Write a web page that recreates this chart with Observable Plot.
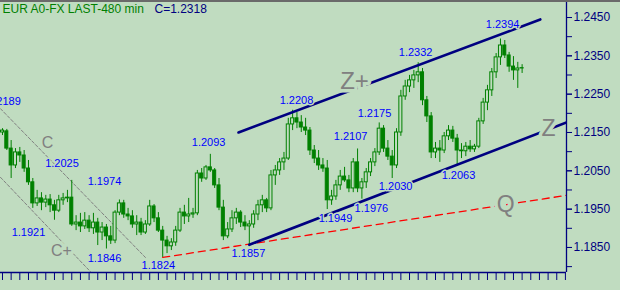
<!DOCTYPE html>
<html><head><meta charset="utf-8">
<script src="https://cdn.jsdelivr.net/npm/d3@7"></script>
<script src="https://cdn.jsdelivr.net/npm/@observablehq/plot@0.6"></script>
<style>
html,body{margin:0;padding:0;background:#c0dcc0;overflow:hidden}
#wrap{position:relative;width:620px;height:290px}
#wrap svg{display:block}
#topline{position:absolute;left:0;top:0;width:620px;height:2px;background:#6a6a6a}
</style></head><body><div id="wrap"><div id="topline"></div></div>
<script>
const opens = [1.2150,1.2153,1.2108,1.2064,1.2098,1.2090,1.2056,1.2020,1.1965,1.1978,
 1.1967,1.1975,1.1960,1.1946,1.1973,1.1978,1.1980,1.1910,1.1915,1.1905,
 1.1920,1.1900,1.1915,1.1889,1.1902,1.1879,1.1868,1.1941,1.1965,1.1936,
 1.1931,1.1910,1.1915,1.1889,1.1910,1.1957,1.1926,1.1894,1.1868,1.1853,
 1.1863,1.1894,1.1941,1.1931,1.1936,1.1939,1.2043,1.2030,1.2059,1.2051,
 1.2012,1.1954,1.1879,1.1897,1.1926,1.1941,1.1915,1.1905,1.1910,1.1936,
 1.1960,1.1973,1.1952,1.2038,1.2051,1.2072,1.2082,1.2171,1.2187,1.2176,
 1.2163,1.2155,1.2103,1.2082,1.2064,1.2056,1.1973,1.1983,1.2012,1.2035,
 1.2025,1.2004,1.2072,1.2004,1.2020,1.2046,1.2072,1.2098,1.2160,1.2108,
 1.2087,1.2064,1.2150,1.2244,1.2270,1.2286,1.2299,1.2307,1.2234,1.2192,
 1.2098,1.2108,1.2103,1.2140,1.2155,1.2134,1.2103,1.2101,1.2113,1.2106,
 1.2113,1.2179,1.2228,1.2260,1.2307,1.2346,1.2377,1.2351,1.2322,1.2312,
 1.2317];
const highs = [1.2160,1.2158,1.2129,1.2108,1.2111,1.2103,1.2077,1.2030,1.1999,1.1993,
 1.1986,1.1988,1.1973,1.1986,1.1991,1.1999,1.2025,1.1933,1.1939,1.1941,
 1.1933,1.1939,1.1926,1.1915,1.1910,1.1905,1.1946,1.1974,1.1973,1.1952,
 1.1946,1.1933,1.1926,1.1920,1.1973,1.1962,1.1941,1.1905,1.1879,1.1873,
 1.1905,1.1952,1.1960,1.1978,1.1952,1.2051,1.2056,1.2064,1.2093,1.2056,
 1.2030,1.1973,1.1915,1.1946,1.1952,1.1946,1.1933,1.1920,1.1946,1.1973,
 1.1986,1.1978,1.2051,1.2064,1.2082,1.2098,1.2187,1.2208,1.2202,1.2194,
 1.2187,1.2163,1.2116,1.2103,1.2082,1.2077,1.1999,1.2025,1.2051,1.2059,
 1.2038,1.2082,1.2107,1.2030,1.2056,1.2082,1.2108,1.2175,1.2168,1.2129,
 1.2103,1.2160,1.2260,1.2286,1.2299,1.2312,1.2332,1.2317,1.2244,1.2202,
 1.2124,1.2129,1.2150,1.2168,1.2166,1.2145,1.2121,1.2124,1.2129,1.2119,
 1.2187,1.2239,1.2273,1.2317,1.2356,1.2394,1.2390,1.2359,1.2348,1.2333,
 1.2327];
const lows = [1.2142,1.2103,1.2030,1.2056,1.2072,1.2046,1.2012,1.1952,1.1957,1.1946,
 1.1954,1.1941,1.1921,1.1941,1.1960,1.1967,1.1905,1.1894,1.1889,1.1897,
 1.1889,1.1884,1.1855,1.1868,1.1846,1.1858,1.1860,1.1933,1.1926,1.1920,
 1.1900,1.1881,1.1881,1.1884,1.1905,1.1915,1.1889,1.1824,1.1834,1.1842,
 1.1853,1.1889,1.1910,1.1915,1.1926,1.1933,1.2020,1.2025,1.2046,1.2004,
 1.1946,1.1868,1.1873,1.1889,1.1910,1.1902,1.1894,1.1857,1.1900,1.1920,
 1.1941,1.1941,1.1946,1.2012,1.2038,1.2051,1.2077,1.2155,1.2160,1.2150,
 1.2142,1.2090,1.2069,1.2051,1.2046,1.1949,1.1960,1.1973,1.1999,1.2020,
 1.1993,1.1993,1.1993,1.1976,1.2004,1.2035,1.2061,1.2090,1.2098,1.2077,
 1.2030,1.2056,1.2140,1.2234,1.2254,1.2265,1.2280,1.2220,1.2176,1.2082,
 1.2082,1.2072,1.2095,1.2129,1.2124,1.2063,1.2082,1.2087,1.2098,1.2098,
 1.2108,1.2171,1.2207,1.2244,1.2291,1.2325,1.2343,1.2307,1.2286,1.2265,
 1.2304];
const closes = [1.2155,1.2108,1.2064,1.2098,1.2090,1.2056,1.2020,1.1965,1.1978,1.1967,
 1.1975,1.1960,1.1946,1.1973,1.1978,1.1980,1.1910,1.1915,1.1905,1.1920,
 1.1900,1.1915,1.1889,1.1902,1.1879,1.1868,1.1941,1.1965,1.1936,1.1931,
 1.1910,1.1915,1.1889,1.1910,1.1957,1.1926,1.1894,1.1868,1.1853,1.1863,
 1.1894,1.1941,1.1931,1.1936,1.1939,1.2043,1.2030,1.2059,1.2051,1.2012,
 1.1954,1.1879,1.1897,1.1926,1.1941,1.1915,1.1905,1.1910,1.1936,1.1960,
 1.1973,1.1952,1.2038,1.2051,1.2072,1.2082,1.2171,1.2187,1.2176,1.2163,
 1.2155,1.2103,1.2082,1.2064,1.2056,1.1973,1.1983,1.2012,1.2035,1.2025,
 1.2004,1.2072,1.2004,1.2020,1.2046,1.2072,1.2098,1.2160,1.2108,1.2087,
 1.2064,1.2150,1.2244,1.2270,1.2286,1.2299,1.2307,1.2234,1.2192,1.2098,
 1.2108,1.2103,1.2140,1.2155,1.2134,1.2103,1.2101,1.2113,1.2106,1.2113,
 1.2179,1.2228,1.2260,1.2307,1.2346,1.2377,1.2351,1.2322,1.2312,1.2317,
 1.2318];

// right axis
const yTicks = [1.180,1.185,1.190,1.195,1.200,1.205,1.210,1.215,1.220,1.225,1.230,1.235,1.240,1.245];
const yLabels = [1.1850,1.1950,1.2050,1.2150,1.2250,1.2350,1.2450];
// bottom time ticks (every 2 bars)
const xTicks = d3.range(0, 131, 2);

// swing value labels: text, bar position, price position
const valueText  = ["1.2189","1.2025","1.1974","1.1921","1.1846","1.1824","1.2093","1.1857","1.2208","1.1949","1.1976","1.2107","1.2175","1.2030","1.2332","1.2063","1.2394"];
const valueBar   = [0.35, 13.74, 23.56, 6.0, 23.56, 36.0, 47.6, 56.8, 67.9, 76.9, 85.2, 80.4, 85.9, 90.8, 95.4, 105.3, 115.5];
const valuePrice = [1.2231,1.2069,1.2022,1.1889,1.1821,1.1803,1.2124,1.1834,1.2233,1.1926,1.1952,1.2140,1.2200,1.2009,1.2359,1.2038,1.2432];

// trend lines (bar, price endpoints)
const zPlusBar = [54.5, 124.2],  zPlusPrice = [1.2150, 1.2445];
const zBar     = [57, 130.25],   zPrice     = [1.1857, 1.2176];
const qBar     = [37, 130.25],   qPrice     = [1.1824, 1.1986];
const cBar     = [-0.46, 33],    cPrice     = [1.2212, 1.1824];
const cPlusBar = [-0.46, 20.3],  cPlusPrice = [1.2033, 1.1787];

// line names
const lineText  = ["Z+", "Z", "Q", "C", "C+"];
const lineBar   = [81.3, 126.1, 116.2, 10.4, 13.6];
const linePrice = [1.2283, 1.2159, 1.1962, 1.2123, 1.1840];
const lineSize  = [24, 23, 23, 16, 16];

const bg = "#c0dcc0", green = "#008000", navy = "#000080";
const xDomain = [-0.46, 130.25], yDomain = [1.17847, 1.24944];

const bars = opens.map((o, i) => ({i, open: o, high: highs[i], low: lows[i], close: closes[i]}));
const pts = (b, p) => b.map((x, k) => ({bar: x, price: p[k]}));
const values = valueText.map((t, k) => ({t, bar: valueBar[k], price: valuePrice[k]}));
const names = lineText.map((t, k) => ({t, bar: lineBar[k], price: linePrice[k], s: lineSize[k]}));

const chart = Plot.plot({
  width: 620, height: 290,
  marginLeft: 0, marginRight: 54, marginTop: 0, marginBottom: 18,
  x: {type: "linear", domain: xDomain, axis: null},
  y: {type: "linear", domain: yDomain, axis: null},
  style: {background: bg, fontFamily: "'Liberation Sans', Arial, sans-serif", fontSize: "12px"},
  marks: [
    Plot.line(pts(cBar, cPrice), {x: "bar", y: "price", stroke: "#808080", strokeWidth: 1, strokeDasharray: "3,2", clip: true}),
    Plot.line(pts(cPlusBar, cPlusPrice), {x: "bar", y: "price", stroke: "#808080", strokeWidth: 1, strokeDasharray: "3,2", clip: true}),
    Plot.line(pts(qBar, qPrice), {x: "bar", y: "price", stroke: "#ff0000", strokeWidth: 1.3, strokeDasharray: "7,5", clip: true}),
    Plot.ruleX(bars, {x: "i", y1: "low", y2: "high", stroke: green, strokeWidth: 1}),
    Plot.rect(bars, {x1: d => d.i - 0.35, x2: d => d.i + 0.35, y1: "open", y2: "close",
      fill: d => d.close >= d.open ? bg : green, stroke: green, strokeWidth: 1}),
    Plot.line(pts(zPlusBar, zPlusPrice), {x: "bar", y: "price", stroke: navy, strokeWidth: 2.6, clip: true}),
    Plot.line(pts(zBar, zPrice), {x: "bar", y: "price", stroke: navy, strokeWidth: 2.6, clip: true}),
    Plot.ruleY([yDomain[0]], {stroke: navy, strokeWidth: 1.3}),
    Plot.ruleX([xDomain[1]], {stroke: navy, strokeWidth: 1.3}),
    Plot.axisX(xTicks, {anchor: "bottom", tickSize: 8, tickFormat: () => "", stroke: navy}),
    Plot.axisY(yTicks, {anchor: "right", tickSize: 5, tickFormat: () => "", stroke: navy}),
    Plot.axisY(yLabels, {anchor: "right", tickSize: 5, tickPadding: 2, tickFormat: d => d.toFixed(4), fill: navy, stroke: navy, fontSize: 12}),
    Plot.text(names, {x: "bar", y: "price", text: "t", fontSize: d => d.s, fill: "#808080",
      stroke: bg, strokeWidth: 7, paintOrder: "stroke"}),
    Plot.text(values, {x: "bar", y: "price", text: "t", fontSize: 11, fill: "#0000ff",
      stroke: bg, strokeWidth: 3, paintOrder: "stroke"}),
    Plot.text(["EUR A0-FX LAST-480 min"], {frameAnchor: "top-left", dx: 2, dy: 4, lineAnchor: "top", textAnchor: "start", fill: green, fontSize: 12}),
    Plot.text([`C=${closes[closes.length - 1].toFixed(4)}`], {frameAnchor: "top-left", dx: 154, dy: 4, lineAnchor: "top", textAnchor: "start", fill: navy, fontSize: 12})
  ]
});
document.getElementById("wrap").appendChild(chart);
</script></body></html>
